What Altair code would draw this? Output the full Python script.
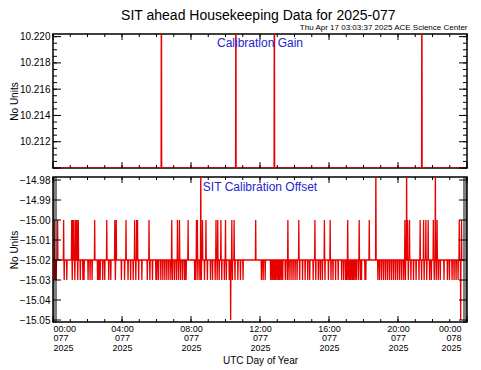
import altair as alt
import numpy as np
import pandas as pd

# ---------------- data (minutes of day, 2025-077) ----------------
gain_base = 10.210
gain_spike_minutes = [377, 636, 770, 1283]
gain_spike_value = 10.230

offset_base = -15.02
offset_up_value = -15.00
offset_up_minutes = [4, 16, 37, 65, 69, 73, 79, 83, 88, 145, 187, 215, 220, 254, 284, 291, 294, 334,
                     413, 433, 440, 470, 499, 502, 520, 532, 567, 573, 584, 600, 622, 630, 705,
                     817, 855, 911, 944, 964, 1025, 1065, 1100, 1224, 1233, 1240, 1277, 1289, 1297,
                     1305, 1323, 1336, 1413, 1421]
offset_down_value = -15.03
offset_down_minutes = [2, 7, 11, 39, 48, 67, 76, 86, 95, 104, 108, 122, 129, 136, 155, 159, 164, 173,
                       180, 194, 201, 217, 238, 249, 261, 270, 279, 288, 298, 309, 328, 337, 346, 358,
                       361, 367, 375, 382, 389, 396, 403, 410, 416, 423, 430, 437, 444, 451, 458, 463,
                       493, 497, 504, 511, 516, 527, 537, 548, 555, 564, 571, 578, 587, 596, 603, 613,
                       624, 633, 643, 652, 661, 725, 731, 738, 757, 762, 766, 771, 775, 780, 785, 789,
                       794, 799, 808, 815, 821, 828, 835, 842, 849, 858, 868, 877, 886, 893, 905, 914,
                       923, 930, 937, 946, 958, 967, 974, 983, 992, 1004, 1011, 1018, 1022, 1027, 1032,
                       1036, 1041, 1045, 1050, 1055, 1062, 1069, 1073, 1085, 1088, 1130, 1136, 1143,
                       1150, 1157, 1164, 1171, 1178, 1185, 1192, 1199, 1206, 1213, 1220, 1226, 1236,
                       1245, 1254, 1263, 1273, 1282, 1291, 1300, 1310, 1316, 1326, 1333, 1340, 1347,
                       1360, 1372, 1379, 1388, 1395, 1402, 1409]
offset_high_value = -14.97
offset_high_minutes = [514, 1123, 1230, 1330]
offset_low_value = -15.05
offset_low_minutes = [618, 1418]
last_minute = 1430

x_major_hours = [0, 4, 8, 12, 16, 20, 24]
x_minor_hours = list(range(25))
gain_major_ticks = [10.210, 10.212, 10.214, 10.216, 10.218, 10.220]
gain_labels = [10.212, 10.214, 10.216, 10.218, 10.220]
offset_major_ticks = [-15.05, -15.04, -15.03, -15.02, -15.01, -15.00, -14.99, -14.98]

gain_domain = [10.2100, 10.2202]
offset_domain = [-15.051, -14.9785]

title_text = "SIT ahead Housekeeping Data for 2025-077"
stamp_text = "Thu Apr 17 03:03:37 2025 ACE Science Center"
gain_label = "Calibration Gain"
offset_label = "SIT Calibration Offset"
y_title = "No Units"
x_title = "UTC Day of Year"

# ---------------- styling ----------------
W = 414
H1 = 134
H2 = 145
RED = "#e80000"
BLUE = "#2424d0"
FONT = "Liberation Sans"

minutes = np.arange(last_minute + 1)
gain_vals = np.full(len(minutes), gain_base)
gain_vals[gain_spike_minutes] = gain_spike_value
off_vals = np.full(len(minutes), offset_base)
off_vals[offset_down_minutes] = offset_down_value
off_vals[offset_up_minutes] = offset_up_value
off_vals[offset_high_minutes] = offset_high_value
off_vals[offset_low_minutes] = offset_low_value

df_gain = pd.DataFrame({"h": minutes / 60.0, "v": gain_vals})
df_off = pd.DataFrame({"h": minutes / 60.0, "v": off_vals})

xscale = alt.Scale(domain=[0, 24], nice=False, zero=False)
gscale = alt.Scale(domain=gain_domain, nice=False, zero=False)
oscale = alt.Scale(domain=offset_domain, nice=False, zero=False)

label_expr = ("[(datum.value % 24 < 10 ? '0' : '') + (datum.value % 24) + ':00', "
              "datum.value >= 24 ? '078' : '077', '2025']")
x_axis_bottom = alt.Axis(values=x_major_hours, labelExpr=label_expr, ticks=False, domain=False,
                         grid=False, labelFontSize=9, labelLineHeight=9.5, labelPadding=2,
                         labelAngle=0, labelOverlap=False,
                         labelOffset={"condition": {"test": "datum.value >= 24", "value": -6},
                                      "value": 0},
                         title=x_title, titleFontSize=10, titleFontWeight="normal",
                         titlePadding=3)
gain_axis = alt.Axis(values=gain_labels, format=".3f", ticks=False, domain=False, grid=False,
                     labelFontSize=10, labelPadding=3, title=y_title, titleFontSize=10,
                     titleFontWeight="normal", titlePadding=0)
off_axis = alt.Axis(values=offset_major_ticks, format=".2f", ticks=False, domain=False,
                    grid=False, labelFontSize=10, labelPadding=3, title=y_title,
                    titleFontSize=10, titleFontWeight="normal", titlePadding=0)


def x_ticks(hours, length, height, xaxis):
    d = pd.DataFrame({"h": hours})
    base = alt.Chart(d).mark_rule(color="black", strokeWidth=1)
    bottom = base.encode(x=alt.X("h:Q", scale=xscale, axis=xaxis),
                         y=alt.value(height), y2=alt.value(height - length))
    top = base.encode(x=alt.X("h:Q", scale=xscale, axis=xaxis),
                      y=alt.value(0), y2=alt.value(length))
    return [bottom, top]


def y_ticks(vals, length, yscale, yaxis):
    d = pd.DataFrame({"v": vals})
    base = alt.Chart(d).mark_rule(color="black", strokeWidth=1)
    left = base.encode(y=alt.Y("v:Q", scale=yscale, axis=yaxis),
                       x=alt.value(0), x2=alt.value(length))
    right = base.encode(y=alt.Y("v:Q", scale=yscale, axis=yaxis),
                        x=alt.value(W), x2=alt.value(W - length))
    return [left, right]


def label_layer(text, y):
    return alt.Chart(pd.DataFrame({"t": [text]})).mark_text(
        color=BLUE, fontSize=12, font=FONT, align="center", baseline="middle"
    ).encode(text="t:N", x=alt.value(W / 2), y=alt.value(y))


# ---- top panel ----
gain_line = alt.Chart(df_gain).mark_line(color=RED, strokeWidth=1.3, clip=True).encode(
    x=alt.X("h:Q", scale=xscale, axis=None),
    y=alt.Y("v:Q", scale=gscale, axis=gain_axis),
)
gain_minor = [round(10.2100 + 0.0005 * i, 4) for i in range(21)]
top_layers = [gain_line]
top_layers += x_ticks(x_minor_hours, 3, H1, None) + x_ticks(x_major_hours, 6, H1, None)
top_layers += y_ticks(gain_minor, 4, gscale, gain_axis) + y_ticks(gain_major_ticks, 8, gscale, gain_axis)
top_layers.append(label_layer(gain_label, 9))
top = alt.layer(*top_layers).properties(
    width=W, height=H1,
    title=alt.TitleParams(stamp_text, anchor="end", fontSize=8, fontWeight="normal", offset=0),
)

# ---- bottom panel ----
off_line = alt.Chart(df_off).mark_line(color=RED, strokeWidth=1.3, clip=True).encode(
    x=alt.X("h:Q", scale=xscale, axis=x_axis_bottom),
    y=alt.Y("v:Q", scale=oscale, axis=off_axis),
)
off_minor = [round(-15.051 + 0.001 * i, 3) for i in range(73)]
bot_layers = [off_line]
bot_layers += x_ticks(x_minor_hours, 3, H2, x_axis_bottom) + x_ticks(x_major_hours, 6, H2, x_axis_bottom)
bot_layers += y_ticks(off_minor, 4, oscale, off_axis) + y_ticks(offset_major_ticks, 8, oscale, off_axis)
bot_layers.append(label_layer(offset_label, 10))
bottom = alt.layer(*bot_layers).properties(width=W, height=H2)

chart = alt.vconcat(top, bottom, spacing=4).properties(
    title=alt.TitleParams(title_text, anchor="middle", fontSize=14, fontWeight="normal", offset=0, dx=20),
    padding={"left": 0, "top": 0, "right": 0, "bottom": 0},
).configure(font=FONT).configure_view(stroke="black", strokeWidth=1.5).configure_axis(
    labelFont=FONT, titleFont=FONT, labelColor="black", titleColor="black"
).configure_title(font=FONT, color="black")

chart.save("out.html", embed_options={"renderer": "svg", "actions": False})
